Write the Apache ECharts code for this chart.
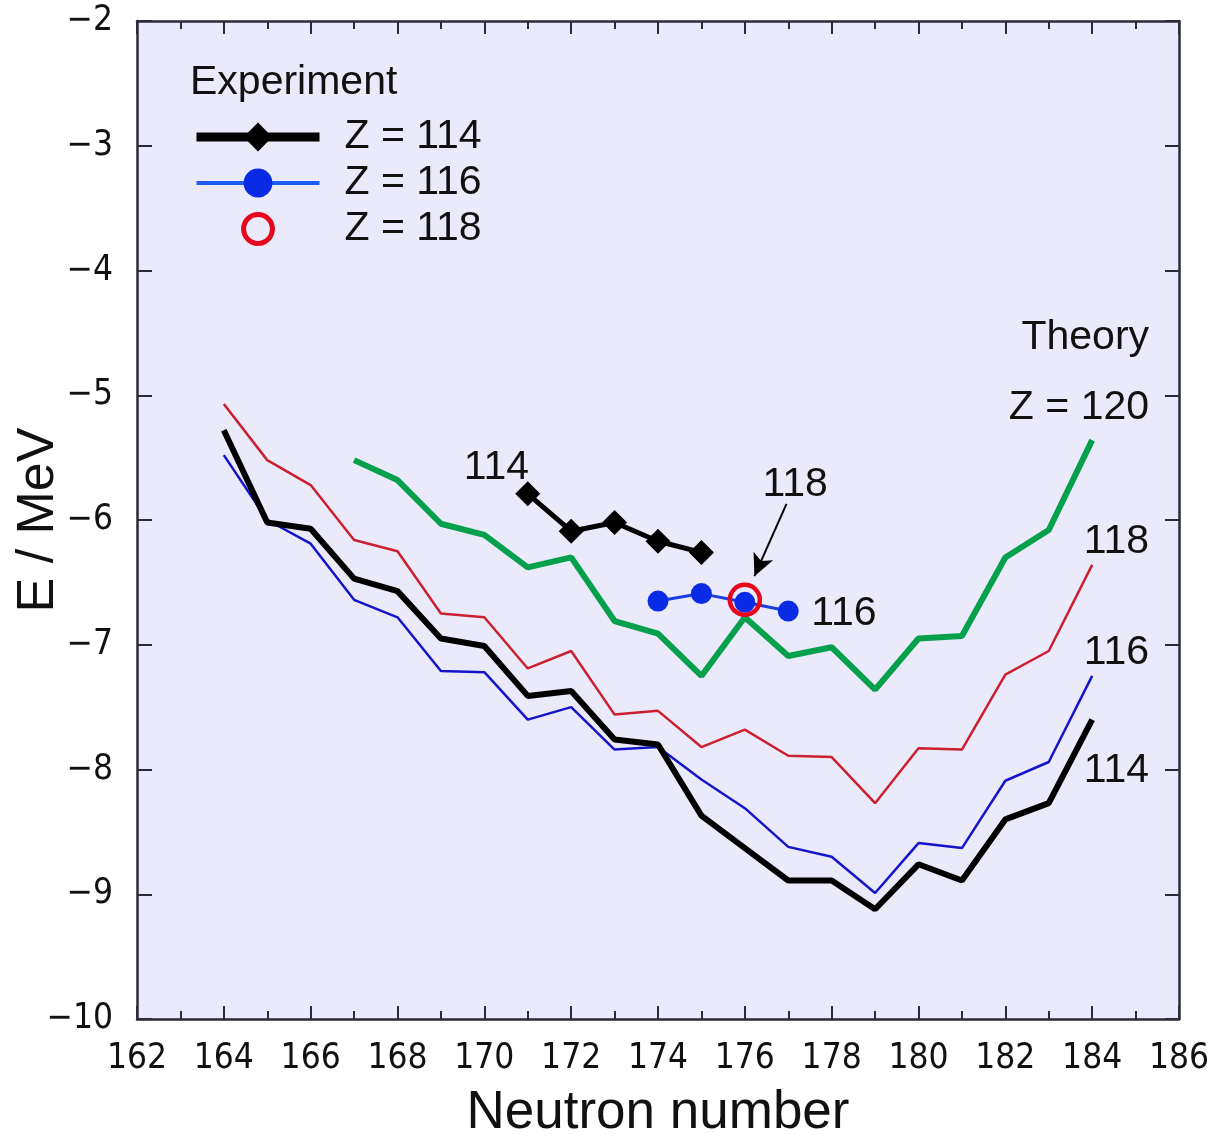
<!DOCTYPE html>
<html>
<head>
<meta charset="utf-8">
<title>Binding energy vs neutron number</title>
<script src="https://cdn.jsdelivr.net/npm/echarts@6/dist/echarts.min.js"></script>
<style>
  html, body { margin: 0; padding: 0; background: #ffffff; }
  #chart { width: 1208px; height: 1141px; }
</style>
</head>
<body>
<div id="chart"></div>
<script>
// Neutron numbers for the theoretical curves
const neutrons = [164, 165, 166, 167, 168, 169, 170, 171, 172, 173, 174,
                  175, 176, 177, 178, 179, 180, 181, 182, 183, 184];

// Theory, E / MeV
const theory114 = [-5.28, -6.02, -6.07, -6.47, -6.57, -6.95, -7.01, -7.41, -7.37, -7.76, -7.80,
                   -8.37, -8.63, -8.89, -8.89, -9.12, -8.76, -8.89, -8.40, -8.27, -7.60];
const theory116 = [-5.48, -6.00, -6.19, -6.64, -6.78, -7.21, -7.22, -7.60, -7.50, -7.84, -7.82,
                   -8.08, -8.31, -8.62, -8.70, -8.99, -8.59, -8.63, -8.09, -7.94, -7.25];
const theory118 = [-5.07, -5.52, -5.72, -6.16, -6.25, -6.75, -6.78, -7.19, -7.05, -7.56, -7.53,
                   -7.82, -7.68, -7.89, -7.90, -8.27, -7.83, -7.84, -7.24, -7.05, -6.36];
const theory120 = [null, null, null, -5.52, -5.68, -6.03, -6.12, -6.38, -6.30, -6.81, -6.91,
                   -7.25, -6.78, -7.09, -7.02, -7.36, -6.95, -6.93, -6.30, -6.08, -5.36];

// Experiment
const exp114N = [171, 172, 173, 174, 175];
const exp114E = [-5.79, -6.09, -6.02, -6.17, -6.26];
const exp116N = [174, 175, 176, 177];
const exp116E = [-6.65, -6.59, -6.66, -6.73];
const exp118N = [176];
const exp118E = [-6.64];

// Axis ticks
const xTicks = [162, 164, 166, 168, 170, 172, 174, 176, 178, 180, 182, 184, 186];
const yTicks = [-10, -9, -8, -7, -6, -5, -4, -3, -2];

// Text annotations placed in data coordinates
const notes = [
  { text: '114', at: [170.28, -5.58], align: 'center' },
  { text: '118', at: [177.16, -5.72], align: 'center' },
  { text: '116', at: [177.53, -6.75], align: 'left' },
  { text: 'Theory', at: [185.31, -4.54], align: 'right' },
  { text: 'Z = 120', at: [185.31, -5.10], align: 'right' },
  { text: '118', at: [185.31, -6.17], align: 'right' },
  { text: '116', at: [185.31, -7.06], align: 'right' },
  { text: '114', at: [185.31, -8.01], align: 'right' }
];
const arrowFrom = [176.96, -5.87];
const arrowTo = [176.22, -6.45];

const pairs = (xs, ys) => xs.map((x, i) => [x, ys[i]]).filter(p => p[1] !== null);

const SANS = '"Liberation Sans", Arial, sans-serif';
const NARROW = '"Liberation Sans Narrow", "DejaVu Sans Condensed", sans-serif';
const FRAME = '#2a2a3a';

const chart = echarts.init(document.getElementById('chart'), null, { renderer: 'canvas' });

const baseAxis = {
  type: 'value',
  axisLine: { show: true, onZero: false, lineStyle: { color: FRAME, width: 2.5 } },
  splitLine: { show: false },
  axisTick: { show: true, inside: true, lineStyle: { color: FRAME, width: 2 } }
};

const option = {
  animation: false,
  backgroundColor: '#ffffff',
  title: {
    text: 'Experiment',
    left: 190,
    top: 62,
    padding: 0,
    textStyle: { fontFamily: SANS, fontSize: 41, fontWeight: 'normal', color: '#111' }
  },
  legend: {
    orient: 'vertical',
    left: 192,
    top: 114,
    padding: 0,
    itemWidth: 123,
    itemHeight: 36,
    itemGap: 0,
    textStyle: { fontFamily: SANS, fontSize: 41, color: '#111', lineHeight: 46, padding: [0, 0, 0, 20] },
    data: [
      { name: 'Z = 114', lineStyle: { width: 9 } },
      { name: 'Z = 116', lineStyle: { width: 4, color: '#1f5cf0' } },
      { name: 'Z = 118', lineStyle: { width: 0, opacity: 0 }, itemStyle: { borderWidth: 5 } }
    ]
  },
  grid: {
    left: 137, right: 29, top: 21, bottom: 122,
    outerBoundsMode: 'none',
    containLabel: false,
    show: true, backgroundColor: '#eaeafa', borderWidth: 0
  },
  xAxis: [
    Object.assign({}, baseAxis, {
      position: 'bottom',
      min: xTicks[0], max: xTicks[xTicks.length - 1], interval: 2,
      axisTick: Object.assign({}, baseAxis.axisTick, { length: 13 }),
      minorTick: { show: true, splitNumber: 2, length: 8, lineStyle: { color: FRAME, width: 2 } },
      axisLabel: { margin: 22, fontFamily: NARROW, fontSize: 35, color: '#111' },
      name: 'Neutron number',
      nameLocation: 'middle',
      nameGap: 68,
      nameMoveOverlap: false,
      nameTextStyle: { fontFamily: SANS, fontSize: 53, color: '#111' }
    }),
    Object.assign({}, baseAxis, {
      position: 'top',
      min: xTicks[0], max: xTicks[xTicks.length - 1], interval: 2,
      axisTick: Object.assign({}, baseAxis.axisTick, { length: 13 }),
      minorTick: { show: true, splitNumber: 2, length: 8, lineStyle: { color: FRAME, width: 2 } },
      axisLabel: { show: false }
    })
  ],
  yAxis: [
    Object.assign({}, baseAxis, {
      position: 'left',
      min: yTicks[0], max: yTicks[yTicks.length - 1], interval: 1,
      axisTick: Object.assign({}, baseAxis.axisTick, { length: 15 }),
      axisLabel: {
        margin: 24, fontFamily: NARROW, fontSize: 35, color: '#111',
        formatter: v => (v < 0 ? '\u2212' : '') + Math.abs(v)
      },
      name: 'E / MeV',
      nameLocation: 'middle',
      nameGap: 72,
      nameMoveOverlap: false,
      nameTextStyle: { fontFamily: SANS, fontSize: 52, color: '#111' }
    }),
    Object.assign({}, baseAxis, {
      position: 'right',
      min: yTicks[0], max: yTicks[yTicks.length - 1], interval: 1,
      axisTick: Object.assign({}, baseAxis.axisTick, { length: 14 }),
      axisLabel: { show: false }
    })
  ],
  series: [
    {
      name: 'Theory Z = 118', type: 'line', data: pairs(neutrons, theory118),
      showSymbol: false, symbol: 'none',
      lineStyle: { color: '#cc2030', width: 2.5 }, z: 2
    },
    {
      name: 'Theory Z = 116', type: 'line', data: pairs(neutrons, theory116),
      showSymbol: false, symbol: 'none',
      lineStyle: { color: '#1414c8', width: 2.5 }, z: 2
    },
    {
      name: 'Theory Z = 114', type: 'line', data: pairs(neutrons, theory114),
      showSymbol: false, symbol: 'none',
      lineStyle: { color: '#000000', width: 6 }, z: 3
    },
    {
      name: 'Theory Z = 120', type: 'line', data: pairs(neutrons, theory120),
      showSymbol: false, symbol: 'none',
      lineStyle: { color: '#05a04c', width: 6 }, z: 3
    },
    {
      name: 'Z = 114', type: 'line', data: pairs(exp114N, exp114E),
      symbol: 'diamond', symbolSize: [25, 25],
      itemStyle: { color: '#000000' },
      lineStyle: { color: '#000000', width: 5 }, z: 5
    },
    {
      name: 'Z = 116', type: 'line', data: pairs(exp116N, exp116E),
      symbol: 'circle', symbolSize: 21,
      itemStyle: { color: '#0a2be6' },
      lineStyle: { color: '#1a3ee0', width: 3 }, z: 5
    },
    {
      name: 'Z = 118', type: 'line', data: pairs(exp118N, exp118E),
      symbol: 'circle', symbolSize: 30,
      itemStyle: { color: 'rgba(0,0,0,0)', borderColor: '#e8061c', borderWidth: 4.5 },
      lineStyle: { width: 0 }, z: 6,
      markLine: {
        silent: true,
        symbol: ['none', 'arrow'],
        symbolSize: [16, 22],
        label: { show: false },
        lineStyle: { color: '#000000', width: 2, type: 'solid' },
        data: [[{ coord: arrowFrom }, { coord: arrowTo }]]
      }
    }
  ]
};

chart.setOption(option);

// Annotation texts, positioned through the axes
chart.setOption({
  graphic: notes.map(n => {
    const p = chart.convertToPixel({ xAxisIndex: 0, yAxisIndex: 0 }, n.at);
    return {
      type: 'text',
      x: p[0], y: p[1], z: 10,
      style: {
        text: n.text, fill: '#111',
        font: '41px ' + SANS,
        textAlign: n.align, textVerticalAlign: 'middle'
      }
    };
  })
});
</script>
</body>
</html>
